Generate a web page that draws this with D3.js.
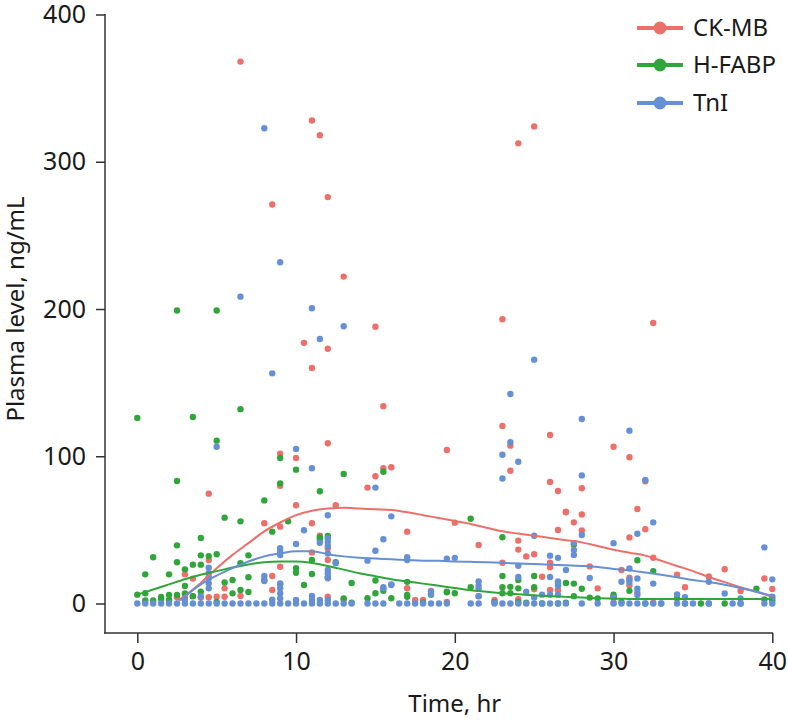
<!DOCTYPE html>
<html>
<head>
<meta charset="utf-8">
<script src="https://cdn.jsdelivr.net/npm/d3@7"></script>
<style>
  html, body { margin: 0; padding: 0; background: #fff; }
  svg { display: block; font-family: "Noto Sans", "Open Sans", sans-serif; }
</style>
</head>
<body>
<svg id="chart" width="788" height="720"></svg>
<script>
// ---------------- DATA ----------------
const seriesNames = ["CK-MB", "H-FABP", "TnI"];
const xTicks = [0, 10, 20, 30, 40];
const yTicks = [0, 100, 200, 300, 400];
const xLabel = "Time, hr";
const yLabel = "Plasma level, ng/mL";

// [time (hr), level (ng/mL)]
const ckmbPoints = [
  [6.5,368],[11,328],[11.5,318],[12,276],[8.5,271],[13,222],[15,188],[10.5,177],[12,173],[11,160],[15.5,134],
  [25,324],[24,312.5],[23,193],[32.5,190.5],
  [4.5,74.6],[9,101.7],[10,98.8],[12,108.8],[9,80],[10,66.7],[12.5,66.7],[8,54.5],[9,52.2],[11,54.5],[11.5,46],
  [12,37.5],[12,29.5],[4.5,29.5],[3,19.8],[3.5,16.9],[4.5,17.8],[8.5,18.7],[8.5,9.2],[9,25],[11,34.7],
  [23,120.5],[23.5,107.2],[26,114.4],[19.5,104.2],[14.5,78.7],[15,86.4],[15.5,91.8],[16,92.5],[23.5,90.2],
  [26,82.5],[26.5,76.4],[27,62.4],[27.5,55.1],[26.5,49.9],[17,48.8],[20,54.9],[21.5,39.7],[24,42.7],[24,36.6],
  [24.5,32],[25,33.4],[25.5,18.2],[26,27.7],[26,24.6],[26,9.2],[26.5,9.2],[23,27.7],[17,10.4],[18.5,8.5],[13,2.4],
  [30,106.5],[31,99.3],[31.5,64.2],[32,50.4],[31,44.9],[28,78.3],[28,60.4],[27,62],[28,49.6],[28.5,25.2],
  [30.5,22.8],[31,17.6],[31,12.4],[31.5,7.4],[32.5,31.1],[34,19.6],[34.5,11],[36,18.4],[37,23.3],[38,8.5],
  [39.5,17],[40,9.8],[32,83],[25,9.6],[29,10.3],
  [2.5,4.2],[3,4],[3.5,5],[4,4],[4.5,4.2],[5,4.6],[5.5,10.3],[5.5,4.6],[6.5,5.1],[12,4.6],[17.5,2.4],[18,2.4],
  [19.5,1],[22.5,2.4],[24,3],[30,4],[40,4],[21.5,5],[30,0.5],[32.5,0.5]
];

const hfabpPoints = [
  [2.5,199],[5,199],[6.5,132],[0,126],[3.5,126.7],[5,110.6],[2.5,83.2],[9,98.8],[10,90.9],[13,88],[9,81.6],
  [11.5,76.2],[8,70],[5.5,58.3],[6.5,55.8],[9.5,55.8],[8.5,48.8],[11.5,43.3],[11.5,45],[12,45.8],[4,44.5],
  [2.5,39.5],[1,31.4],[4,32.7],[4.5,32.2],[5,33.4],[7,32.7],[11,29.5],[2.5,28],[3.5,26.4],[4,26.4],[0.5,19.8],
  [2,19.8],[15.5,89.5],[21,57.6],[23,45],[12.5,28],[13.5,13.9],[15,15.6],[15,7],[14.5,3.6],[15.5,8.7],[16,3.6],
  [17,14.7],[17,4.6],[19.5,7.6],[20,7],[21,11],[23,18.7],[23,11],[23,7],[23.5,11.3],[23.5,7],[25,18.7],[25,11],
  [27,14],[27.5,5],[27.5,40],[31.5,29.4],[32.5,22],[27.5,13.5],[28,10],[28.5,4],[30,6],[31,8.6],[39,10],
  [0,6],[0.5,7],[0.5,2],[1,2],[1.5,3],[1.5,4.5],[2,5.8],[2,2.4],[2.5,5.8],[3,23.2],[3,11.9],[3,6.9],[3.5,5],
  [4,8],[5,1],[5.5,14.3],[6,16],[6,6.9],[6.5,27.3],[6.5,9.2],[7,17.8],[7,7.8],[8,16],[9,13],[10,23.9],[10,20.9],
  [10.5,12.6],[11,20],[12,17.8],[13,3.5],[17,5.8],[18.5,6],[19.5,8],[24,16],[24,10.3],[24,1],[24.5,0.5],
  [25.5,0],[26.5,14],[29,3.5],[30,4.6],[30.5,1],[32,0],[33,0],[34,3.5],[34.5,0],[35.5,0],[36,0],[37,0],[38,0],
  [39.5,2.8],[40,2],[13.5,0.5],[18,0.5],[22.5,1],[26.5,0],[27,0.5]
];

const tniPoints = [
  [8,322.7],[9,231.7],[6.5,208.4],[11,200.5],[13,188.3],[11.5,179.6],[8.5,156.3],[25,165.6],[23.5,142.3],
  [5,106.5],[10,104.9],[11,91.8],[12,59.9],[10.5,49.7],[11.5,41.3],[10,40.4],[9,37.5],[9,35.2],[9,32.9],
  [12.5,27.3],[4.5,24.3],[12,39],[23.5,109.5],[23,101],[24,96.3],[23,84.9],[15,78.7],[16,59.2],[15.5,43.6],
  [15,35.8],[14.5,29.1],[17,31.4],[19.5,30.5],[20,31],[25,46],[27.5,41],[27.5,36.4],[27.5,33],[26,32.5],
  [26.5,31],[27,22.8],[24,25.6],[26,18],[26.5,15],[26.5,12],[24,18],[15.5,11],[16,13],[18.5,6.5],[21.5,15],
  [21.5,12],[21.5,10],[21.5,5],[24.5,8],[25,4],[25.5,6],[26,6],[26.5,6],[28,125.3],[31,117.4],[32,83.9],[28,87],
  [28,46.5],[32.5,55.1],[31.5,47.4],[30,41],[28.5,17.3],[30.5,14.8],[31,23.8],[31,16.4],[31,14.6],[31.5,17],
  [31.5,10],[32.5,13.5],[34,6.2],[36,14.8],[37,6.8],[39.5,38.1],[40,16.4],[40,4.6],
  [3,2.5],[4.5,20.5],[4.5,17.1],[4.5,13.7],[4.5,10.3],[4,5],[8,18.7],[8,15.3],[8.5,2.5],[9,13.7],[9,10.3],
  [9,6.9],[9,3.5],[10,2.4],[11,5.1],[11,2.4],[11.5,2.4],[12,44.3],[12,42],[12,34],[12,22.8],[12,20.5],
  [12,17.1],[12,2.4],[15.5,10.3],[16,12.6],[17,29.5],[18.5,8],[30,4],[31.5,5.8],[34.5,4.2],[38,3.5],[22.5,0.6],
  [0,0],[0.5,0],[1,0],[1.5,0],[2,0],[2.5,0],[3,0],[3.5,0],[4,0],[4.5,0],[5,0],[5.5,0],[6,0],[6.5,0],[7,0],
  [7.5,0],[8,0],[8.5,0],[9,0],[9.5,0],[10,0],[10.5,0],[11,0],[11.5,0],[12,0],[12.5,0],[13,0],[13.5,0],
  [14.5,0],[15,0],[15.5,0],[16.5,0],[17,0],[17.5,0],[18,0],[18.5,0],[19,0],[19.5,0],[21,0],[21.5,0],[22.5,0],
  [23,0],[23.5,0],[24,0],[24.5,0],[25,0],[25.5,0],[26,0],[26.5,0],[27,0],[28,0],[29,0],[30,0],[30.5,0],
  [31,0],[31.5,0],[32,0],[32.5,0],[33,0],[34,0],[34.5,0],[35,0],[36,0],[37.5,0],[38,0],[39.5,0],[40,0]
];

// smoothed trend lines
const ckmbTrend = [
  [2.6,2],[4,14],[5,24],[6,33],[7,41],[8,49],[9,55],[10,60],[11,63],[12,64.5],[13,65],[14,64.5],[15,64],
  [16,63.5],[17,62],[18,60],[19,58],[20,56],[21,54],[22,51.5],[23,49],[24,47.5],[25,46],[26,44.5],[27,43],
  [28,41.5],[29,39],[30,36.5],[31,34.5],[32,32.5],[33,29],[34,25.5],[35,22],[36,18],[37,14.5],[38,11],[39,8],[40,4.5]
];
const hfabpTrend = [
  [0,6],[1,9.5],[2,13],[3,16.5],[4,19.5],[5,22],[6,24.5],[7,26.5],[8,28],[9,28.5],[10,28.5],[11,27.5],
  [12,25.5],[13,23],[14,20.5],[15,18.5],[16,16.5],[17,15],[18,13.5],[19,12],[20,10.5],[21,9],[22,8],[23,7],
  [24,6.2],[25,5.6],[26,5],[27,4.5],[28,4],[29,3.6],[30,3.3],[31,3.1],[32,3],[34,3],[36,3],[38,3],[40,3.2]
];
const tniTrend = [
  [2.7,2],[4,13],[5,19],[6,24],[7,28.5],[8,32],[9,34],[10,35.5],[11,35.5],[12,33.5],[13,32],[14,31],
  [15,30.5],[16,30],[17,29.5],[18,29],[19,29],[20,28.5],[21,28.3],[22,28],[23,27.6],[24,27.2],[25,26.8],
  [26,26.3],[27,26],[28,25.5],[29,24.8],[30,23.5],[31,22.5],[32,21],[33,19.5],[34,17.8],[35,16],[36,14.5],
  [37,12.8],[38,10.5],[39,8],[40,5]
];

const seriesColors = ["#ec6f69", "#30a53a", "#6690d5"];

// ---------------- DRAW ----------------
const svg = d3.select("#chart");
const axisLeftX = 105, axisBottomY = 633;

const x = d3.scaleLinear().domain([0, 40]).range([137.3, 772.3]);
const y = d3.scaleLinear().domain([0, 400]).range([603.5, 14.5]);

const fontSize = 25;

// Axes
const yAxis = d3.axisLeft(y).tickValues(yTicks).tickSize(9).tickPadding(10).tickSizeOuter(0);
const gy = svg.append("g").attr("transform", `translate(${axisLeftX},0)`).call(yAxis);
gy.select(".domain").remove();
gy.selectAll("text").attr("font-size", fontSize).attr("fill", "#1a1a1a")
  .attr("font-family", '"Noto Sans", sans-serif');
gy.selectAll("line").attr("stroke", "#333").attr("stroke-width", 1.5);

const xAxis = d3.axisBottom(x).tickValues(xTicks).tickSize(10).tickPadding(9).tickSizeOuter(0);
const gx = svg.append("g").attr("transform", `translate(0,${axisBottomY})`).call(xAxis);
gx.select(".domain").remove();
gx.selectAll("text").attr("font-size", fontSize).attr("fill", "#1a1a1a")
  .attr("font-family", '"Noto Sans", sans-serif');
gx.selectAll("line").attr("stroke", "#333").attr("stroke-width", 1.5);

// axis lines (extended, base-R style)
svg.append("line").attr("x1", axisLeftX).attr("x2", axisLeftX)
  .attr("y1", y(400) - 0.5).attr("y2", axisBottomY + 0.75)
  .attr("stroke", "#333").attr("stroke-width", 1.5);
svg.append("line").attr("x1", axisLeftX - 0.75).attr("x2", x(40) + 0.75)
  .attr("y1", axisBottomY).attr("y2", axisBottomY)
  .attr("stroke", "#333").attr("stroke-width", 1.5);

// Axis titles
svg.append("text")
  .attr("x", (x(0) + x(40)) / 2).attr("y", 712)
  .attr("text-anchor", "middle").attr("font-size", 24).attr("fill", "#1a1a1a")
  .text(xLabel);
svg.append("text")
  .attr("transform", `translate(24,${(y(0) + y(400)) / 2}) rotate(-90)`)
  .attr("text-anchor", "middle").attr("font-size", 24).attr("fill", "#1a1a1a")
  .text(yLabel);

// Points
const allPoints = [ckmbPoints, hfabpPoints, tniPoints];
allPoints.forEach((pts, i) => {
  svg.append("g").selectAll("circle").data(pts).join("circle")
    .attr("cx", d => x(d[0])).attr("cy", d => y(d[1]))
    .attr("r", 3.2).attr("fill", seriesColors[i]);
});

// Trend lines
const line = d3.line().x(d => x(d[0])).y(d => y(d[1])).curve(d3.curveMonotoneX);
[ckmbTrend, hfabpTrend, tniTrend].forEach((tr, i) => {
  svg.append("path").datum(tr).attr("d", line)
    .attr("fill", "none").attr("stroke", seriesColors[i]).attr("stroke-width", 2);
});

// Legend
const legend = svg.append("g");
const legendRows = [28, 65, 103];
seriesNames.forEach((name, i) => {
  const g = legend.append("g").attr("transform", `translate(0,${legendRows[i]})`);
  g.append("line").attr("x1", 637).attr("x2", 683).attr("y1", 0).attr("y2", 0)
    .attr("stroke", seriesColors[i]).attr("stroke-width", 4);
  g.append("circle").attr("cx", 660).attr("cy", 0).attr("r", 6.5).attr("fill", seriesColors[i]);
  g.append("text").attr("x", 693).attr("y", 0).attr("dy", "0.35em")
    .attr("font-size", 24).attr("fill", "#1a1a1a").text(name);
});
</script>
</body>
</html>
